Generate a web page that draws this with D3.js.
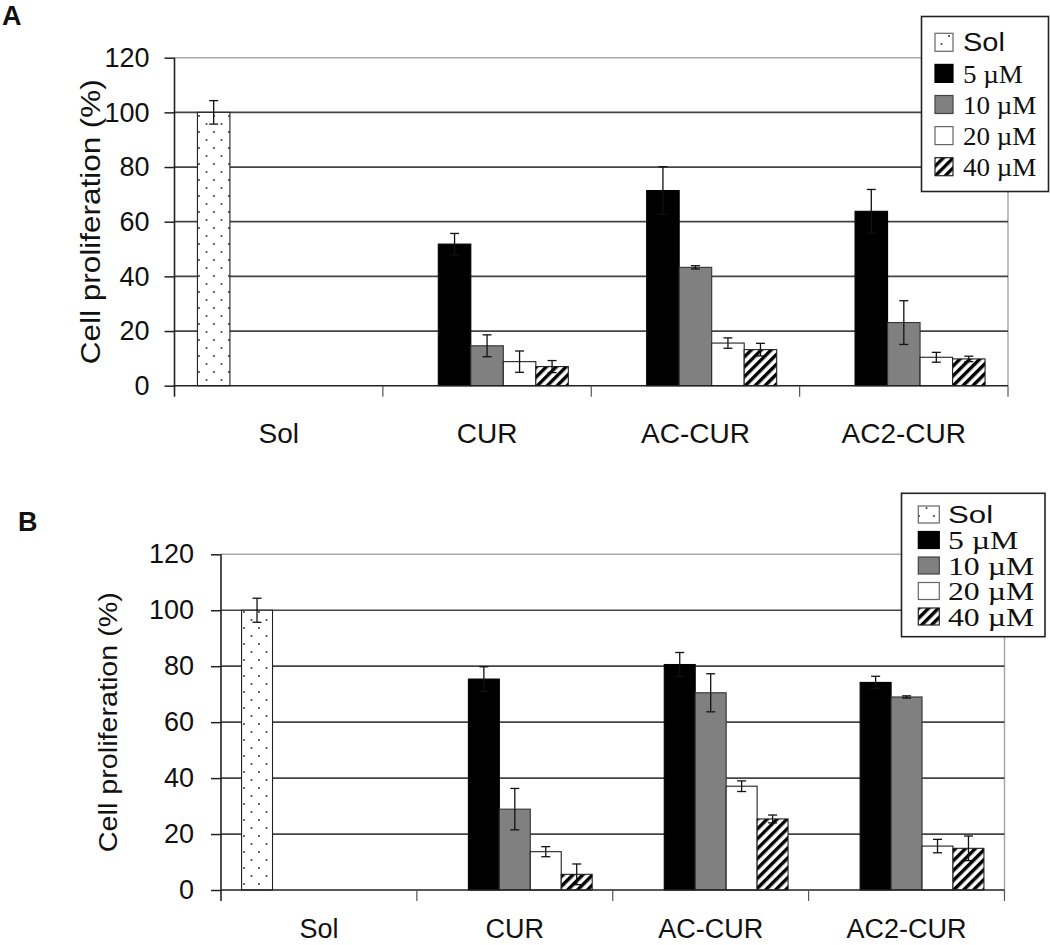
<!DOCTYPE html>
<html>
<head>
<meta charset="utf-8">
<script src="https://cdn.jsdelivr.net/npm/d3@7/dist/d3.min.js"></script>
<style>
  html, body { margin: 0; padding: 0; background: #fff; }
  svg { display: block; }
</style>
</head>
<body>
<div id="chart"></div>
<script>
// ---------------- DATA ----------------
const categories = ["Sol", "CUR", "AC-CUR", "AC2-CUR"];
const seriesNames = ["Sol", "5 \u00b5M", "10 \u00b5M", "20 \u00b5M", "40 \u00b5M"];
const yTicks = [0, 20, 40, 60, 80, 100, 120];
const yTitle = "Cell proliferation (%)";

// Panel A values (per series, one value per category)
const aSol = [100, null, null, null];
const a5   = [null, 51.8, 71.4, 63.8];
const a10  = [null, 14.6, 43.3, 23.1];
const a20  = [null, 8.8, 15.6, 10.4];
const a40  = [null, 7.0, 13.2, 9.8];
// Panel A error (±)
const aSolErr = [4.3, null, null, null];
const a5Err   = [null, 3.9, 8.7, 8.0];
const a10Err  = [null, 4.0, 0.6, 8.0];
const a20Err  = [null, 3.9, 1.9, 1.8];
const a40Err  = [null, 2.2, 2.3, 1.0];

// Panel B values
const bSol = [100, null, null, null];
const b5   = [null, 75.4, 80.6, 74.2];
const b10  = [null, 28.9, 70.5, 69.0];
const b20  = [null, 13.7, 37.1, 15.7];
const b40  = [null, 5.6, 25.4, 14.9];
// Panel B error (±)
const bSolErr = [4.3, null, null, null];
const b5Err   = [null, 4.4, 4.3, 2.2];
const b10Err  = [null, 7.4, 6.8, 0.4];
const b20Err  = [null, 1.8, 1.9, 2.4];
const b40Err  = [null, 3.7, 1.4, 4.4];

// ---------------- LAYOUT / STYLE ----------------
const W = 1050, H = 945;
const svg = d3.select("#chart").append("svg").attr("width", W).attr("height", H);
const defs = svg.append("defs");

const dots = defs.append("pattern").attr("id", "dots")
  .attr("patternUnits", "userSpaceOnUse").attr("width", 15).attr("height", 16);
dots.append("rect").attr("width", 15).attr("height", 16).attr("fill", "#fff");
dots.append("circle").attr("cx", 4).attr("cy", 4).attr("r", 1.05).attr("fill", "#444");
dots.append("circle").attr("cx", 11.5).attr("cy", 12).attr("r", 1.05).attr("fill", "#444");

const hatch = defs.append("pattern").attr("id", "hatch")
  .attr("patternUnits", "userSpaceOnUse").attr("width", 7).attr("height", 7)
  .attr("patternTransform", "rotate(45)");
hatch.append("rect").attr("width", 7).attr("height", 7).attr("fill", "#fff");
hatch.append("rect").attr("width", 3.4).attr("height", 7).attr("fill", "#000");

const fills = ["url(#dots)", "#000", "#808080", "#fff", "url(#hatch)"];
const strokes = ["#222", "#000", "#333", "#222", "#222"];
const legendStrokes = ["#666", "#000", "#444", "#666", "#222"];

const panels = [
  {
    label: "A", labelX: 2, labelY: 25, labelSize: 27,
    values: [aSol, a5, a10, a20, a40],
    errs: [aSolErr, a5Err, a10Err, a20Err, a40Err],
    xl: 174.5, xr: 1008, yb: 385.7, yt: 57.7, pad: 0.22,
    tickFont: 27, tickPad: 15, catFont: 28, catDy: 57.6,
    titleX: 100, titleLen: 285, titleFont: 28,
    legend: { x: 921.5, y: 16.5, w: 127, h: 175, row0: 42.3, step: 31.1,
              swX: 935, sw: 18, sh: 18, tx: 963, solFont: 25, muFont: 26, solSx: 1.16, muSx: 1.04 }
  },
  {
    label: "B", labelX: 18, labelY: 531, labelSize: 27,
    values: [bSol, b5, b10, b20, b40],
    errs: [bSolErr, b5Err, b10Err, b20Err, b40Err],
    xl: 221, xr: 1004.5, yb: 890, yt: 554.3, pad: 0.21,
    tickFont: 27, tickPad: 17, catFont: 27, catDy: 48,
    titleX: 116.5, titleLen: 260, titleFont: 25,
    legend: { x: 901.5, y: 493.3, w: 143.5, h: 143.4, row0: 514.5, step: 25.5,
              swX: 918.3, sw: 21, sh: 17, tx: 948, solFont: 24, muFont: 25, solSx: 1.3, muSx: 1.27 }
  }
];

panels.forEach(p => {
  const g = svg.append("g");
  const y = d3.scaleLinear().domain([0, 120]).range([p.yb, p.yt]);
  const x0 = d3.scaleBand().domain(categories).range([p.xl, p.xr])
    .paddingInner(p.pad).paddingOuter(p.pad / 2);
  const x1 = d3.scaleBand().domain(seriesNames).range([0, x0.bandwidth()]);

  // plot-area border: top (120) and right, light gray
  g.append("line").attr("x1", p.xl).attr("x2", p.xr).attr("y1", y(120)).attr("y2", y(120))
    .attr("stroke", "#a8a8a8").attr("stroke-width", 1.5);
  g.append("line").attr("x1", p.xr).attr("x2", p.xr).attr("y1", y(120)).attr("y2", y(0))
    .attr("stroke", "#a8a8a8").attr("stroke-width", 1.5);

  // gridlines
  g.selectAll(".grid").data(yTicks.filter(t => t > 0 && t < 120)).join("line")
    .attr("x1", p.xl).attr("x2", p.xr)
    .attr("y1", d => y(d)).attr("y2", d => y(d))
    .attr("stroke", "#444").attr("stroke-width", 1.7);

  // bars
  const barData = [];
  categories.forEach((c, ci) => {
    seriesNames.forEach((s, si) => {
      const v = p.values[si][ci];
      if (v != null) barData.push({ c, s, si, v, e: p.errs[si][ci] });
    });
  });
  g.selectAll(".bar").data(barData).join("rect")
    .attr("x", d => x0(d.c) + x1(d.s))
    .attr("y", d => y(d.v))
    .attr("width", x1.bandwidth())
    .attr("height", d => y(0) - y(d.v))
    .attr("fill", d => fills[d.si])
    .attr("stroke", d => strokes[d.si])
    .attr("stroke-width", 1.1);

  // y axis
  const yAxis = d3.axisLeft(y).tickValues(yTicks).tickSize(10).tickPadding(p.tickPad);
  const ya = g.append("g").attr("transform", `translate(${p.xl},0)`).call(yAxis);
  ya.select(".domain").remove();
  ya.selectAll(".tick line").attr("stroke", "#222").attr("stroke-width", 1.5);
  ya.selectAll(".tick text").attr("font-family", "'Liberation Sans', Arial, sans-serif")
    .attr("font-size", p.tickFont).attr("fill", "#111");
  g.append("line").attr("x1", p.xl).attr("x2", p.xl).attr("y1", y(120)).attr("y2", y(0) + 11)
    .attr("stroke", "#222").attr("stroke-width", 1.6);

  // x axis line
  g.append("line").attr("x1", p.xl).attr("x2", p.xr).attr("y1", y(0)).attr("y2", y(0))
    .attr("stroke", "#222").attr("stroke-width", 1.6);
  // category boundary ticks
  const bounds = categories.slice(1).map(c => x0(c) - x0.step() * x0.paddingOuter()).concat([p.xr]);
  g.selectAll(".ctick").data(bounds).join("line")
    .attr("x1", d => d).attr("x2", d => d).attr("y1", y(0)).attr("y2", y(0) + 11)
    .attr("stroke", "#555").attr("stroke-width", 1.2);
  // category labels
  g.selectAll(".clab").data(categories).join("text")
    .attr("x", d => x0(d) + x0.bandwidth() / 2)
    .attr("y", y(0) + p.catDy)
    .attr("text-anchor", "middle")
    .attr("font-family", "'Liberation Sans', Arial, sans-serif")
    .attr("font-size", p.catFont).attr("fill", "#111")
    .text(d => d);

  // error bars
  const errData = barData.filter(d => d.e != null);
  const eg = g.append("g").attr("stroke", "#111").attr("stroke-width", 1.3);
  const cx = d => x0(d.c) + x1(d.s) + x1.bandwidth() / 2;
  eg.selectAll(".ev").data(errData).join("line")
    .attr("x1", cx).attr("x2", cx)
    .attr("y1", d => y(d.v + d.e)).attr("y2", d => y(d.v - d.e));
  eg.selectAll(".et").data(errData).join("line")
    .attr("x1", d => cx(d) - 4.5).attr("x2", d => cx(d) + 4.5)
    .attr("y1", d => y(d.v + d.e)).attr("y2", d => y(d.v + d.e));
  eg.selectAll(".eb").data(errData).join("line")
    .attr("x1", d => cx(d) - 4.5).attr("x2", d => cx(d) + 4.5)
    .attr("y1", d => y(d.v - d.e)).attr("y2", d => y(d.v - d.e));

  // y title
  g.append("text")
    .attr("transform", `translate(${p.titleX},${(p.yb + p.yt) / 2}) rotate(-90)`)
    .attr("text-anchor", "middle")
    .attr("font-family", "'Liberation Sans', Arial, sans-serif")
    .attr("font-size", p.titleFont).attr("fill", "#111")
    .attr("textLength", p.titleLen).attr("lengthAdjust", "spacingAndGlyphs")
    .text(yTitle);

  // panel label
  svg.append("text").attr("x", p.labelX).attr("y", p.labelY)
    .attr("font-family", "'Liberation Sans', Arial, sans-serif")
    .attr("font-weight", "bold").attr("font-size", p.labelSize).attr("fill", "#111")
    .text(p.label);

  // legend
  const L = p.legend;
  const lg = g.append("g");
  lg.append("rect").attr("x", L.x).attr("y", L.y).attr("width", L.w).attr("height", L.h)
    .attr("fill", "#fff").attr("stroke", "#222").attr("stroke-width", 1.6);
  seriesNames.forEach((s, i) => {
    const cy = L.row0 + i * L.step;
    lg.append("rect").attr("x", L.swX).attr("y", cy - L.sh / 2)
      .attr("width", L.sw).attr("height", L.sh)
      .attr("fill", fills[i]).attr("stroke", legendStrokes[i]).attr("stroke-width", 1.2);
    const isSol = i === 0;
    lg.append("text")
      .attr("transform", `translate(${L.tx},${cy}) scale(${isSol ? L.solSx : L.muSx},1)`)
      .attr("dy", "0.36em")
      .attr("font-family", isSol ? "'Liberation Sans', Arial, sans-serif" : "'Liberation Serif', 'Times New Roman', serif")
      .attr("font-size", isSol ? L.solFont : L.muFont).attr("fill", "#111")
      .text(s);
  });
});
</script>
</body>
</html>
